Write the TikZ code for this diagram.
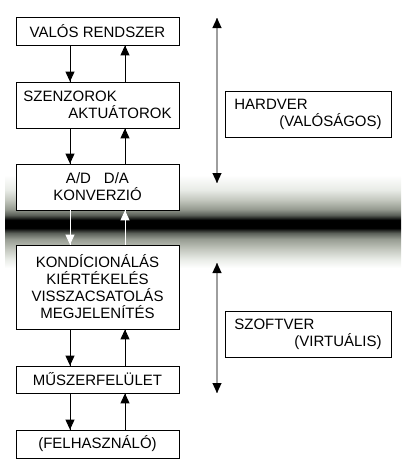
\documentclass[tikz,border=0pt]{standalone}
\usepackage{fontspec}
\setmainfont{Liberation Sans}
\usetikzlibrary{arrows.meta,decorations.markings}

\definecolor{savvil}{RGB}{232,235,230}
\definecolor{savszurke}{RGB}{195,199,190}
\definecolor{savkozep}{RGB}{150,155,145}
\definecolor{savsotet}{RGB}{90,95,88}
\pgfdeclareverticalshading{sav}{100bp}{color(0bp)=(white); color(25bp)=(white);
  color(29.4bp)=(savvil); color(34.2bp)=(savszurke); color(39.1bp)=(savkozep);
  color(42bp)=(savsotet); color(44.4bp)=(black); color(48.3bp)=(black);
  color(50.7bp)=(savsotet); color(53.6bp)=(savkozep); color(58bp)=(savszurke);
  color(62.9bp)=(savvil); color(70.1bp)=(white); color(100bp)=(white)}

\tikzset{
  doboz/.style={draw,fill=white,line width=0.8pt,minimum width=163pt,inner sep=0pt,
    font=\fontsize{15}{17}\selectfont},
  oldal/.style={draw,fill=white,line width=0.8pt,minimum width=166pt,minimum height=46pt,
    inner sep=0pt,align=left,font=\fontsize{15}{17}\selectfont},
  nyil/.style={line width=0.9pt,decoration={markings,mark=at position 1 with
    {\arrow{Triangle[length=10pt,width=9pt]}}},postaction={decorate}},
  ketnyil/.style={draw=black!38,line width=1.2pt,decoration={markings,
    mark=at position 0 with {\arrowreversed{Triangle[length=10pt,width=9pt,color=black,fill=black]}},
    mark=at position 1 with {\arrow{Triangle[length=10pt,width=9pt,color=black,fill=black]}}},
    postaction={decorate}}
}

\begin{document}
\begin{tikzpicture}[x=1pt,y=-1pt]
\useasboundingbox (0,0) rectangle (404,466);
\shade[shading=sav] (5,165) rectangle (401,268);

\node[doboz,minimum height=28pt] (valos) at (97.5,31) {VALÓS RENDSZER};
\node[doboz,minimum height=46pt,align=left] (szenzor) at (97.5,105) {SZENZOROK\\\hspace*{45pt}AKTUÁTOROK};
\node[doboz,minimum height=46pt,align=center] (adda) at (97.5,187) {A/D\hspace{13pt}D/A\\KONVERZIÓ};
\node[doboz,minimum height=84pt,align=center] (kond) at (97.5,287) {KONDÍCIONÁLÁS\\KIÉRTÉKELÉS\\VISSZACSATOLÁS\\MEGJELENÍTÉS};
\node[doboz,minimum height=27pt] (muszer) at (97.5,379.5) {MŰSZERFELÜLET};
\node[doboz,minimum height=28pt] (felh) at (97.5,444) {(FELHASZNÁLÓ)};

\node[oldal] (hardver) at (308,114) {HARDVER\\\hspace*{45pt}(VALÓSÁGOS)};
\node[oldal] (szoftver) at (308,334.5) {SZOFTVER\\\hspace*{60pt}(VIRTUÁLIS)};

\coordinate (le) at (70,0);
\coordinate (fel) at (125,0);
\coordinate (hwfent) at (217,18);
\coordinate (hwlent) at (217,183);
\coordinate (swfent) at (217,263);
\coordinate (swlent) at (217,393);

\foreach \a/\b in {valos/szenzor,szenzor/adda,kond/muszer,muszer/felh} {
    \draw[nyil] (\a.south -| le) -- (\b.north -| le);
    \draw[nyil] (\b.north -| fel) -- (\a.south -| fel);
}
\draw[nyil,white] (adda.south -| le) -- (kond.north -| le);
\draw[nyil,white] (kond.north -| fel) -- (adda.south -| fel);

\draw[ketnyil] (hwfent) -- (hwlent);
\draw[ketnyil] (swfent) -- (swlent);
\end{tikzpicture}
\end{document}
